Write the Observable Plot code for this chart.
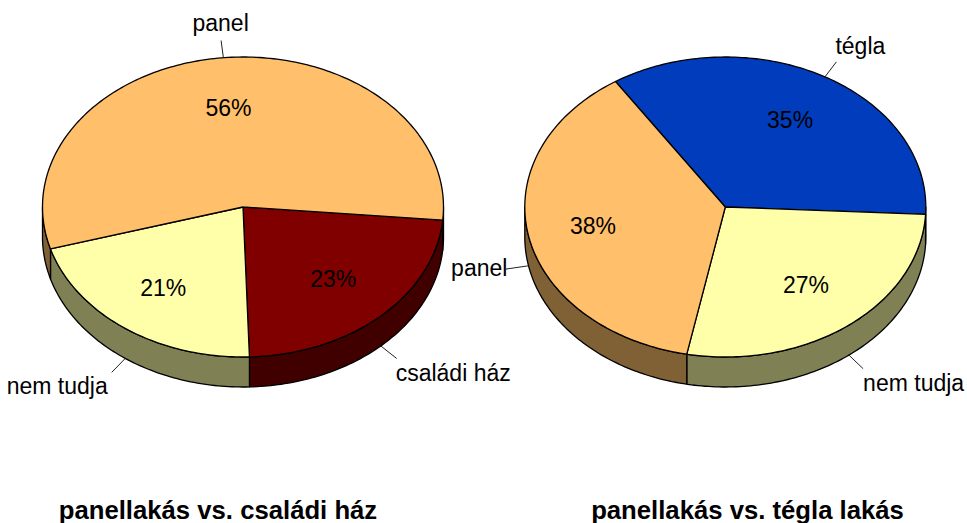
<!DOCTYPE html>
<html>
<head>
<meta charset="utf-8">
<script src="https://cdn.jsdelivr.net/npm/d3@7"></script>
<script src="https://cdn.jsdelivr.net/npm/@observablehq/plot@0.6"></script>
<style>html,body{margin:0;padding:0;background:#fff}svg{display:block}</style>
</head>
<body>
<div id="chart"></div>
<script>
// Data
const leftCategories = ["családi ház", "nem tudja", "panel"];
const leftValues = [23.1, 21, 55.9];
const leftTitle = "panellakás vs. családi ház";
const rightCategories = ["tégla", "nem tudja", "panel"];
const rightValues = [35, 27.3, 37.7];
const rightTitle = "panellakás vs. tégla lakás";

const topColors = {"családi ház":"#800000","nem tudja":"#FFFFAA","panel":"#FFBF6B","tégla":"#003CBC"};
const sideColors = {"családi ház":"#400000","nem tudja":"#808055","panel":"#806035","tégla":"#001E5E"};

// Layout
const W = 967, H = 523, RX = 200.5, RY = 150, DEPTH = 30, CY = 206.5;
const FONT = "Liberation Sans, Arial, sans-serif";
const rad = d => d * Math.PI / 180;

const pies = [
  {id:"L", cx:242.5, start:95, categories:leftCategories, values:leftValues, title:leftTitle, titleX:217.5,
   place:{"családi ház":["start",-1,15],"nem tudja":["end",-4,14],"panel":["middle",-0.5,-17]}},
  {id:"R", cx:724.8, start:-33.2, categories:rightCategories, values:rightValues, title:rightTitle, titleX:747,
   place:{"tégla":["start",-1,-15],"nem tudja":["start",0,15],"panel":["end",1.5,0]}}
];

const tops = [], sides = [], pct = [], leaders = [], labels = [];
const pt = (p, a, r = 1, dy = 0) => [p.cx + RX * r * Math.sin(rad(a)), CY - RY * r * Math.cos(rad(a)) + dy];

for (const p of pies) {
  let a0 = p.start;
  p.categories.forEach((cat, i) => {
    const a1 = a0 + p.values[i] * 3.6;
    const key = p.id + cat;
    const steps = d3.range(a0, a1, 1).concat([a1]);
    // top face
    const face = [[p.cx, CY], ...steps.map(a => pt(p, a)), [p.cx, CY]];
    face.forEach(([x, y]) => tops.push({x, y, key, fill: topColors[cat]}));
    // visible wall: the front half of the rim, 90..270 degrees (mod 360)
    [0, 360, -360].forEach(turn => {
      const lo = Math.max(a0 + turn, 90), hi = Math.min(a1 + turn, 270);
      if (hi <= lo) return;
      const arc = d3.range(lo, hi, 1).concat([hi]);
      const wall = [...arc.map(a => pt(p, a)), ...arc.slice().reverse().map(a => pt(p, a, 1, DEPTH))];
      wall.push(wall[0]);
      wall.forEach(([x, y]) => sides.push({x, y, key: key + turn, fill: sideColors[cat]}));
    });
    // labels
    const mid = (a0 + a1) / 2;
    const [px, py] = pt(p, mid, 0.665);
    pct.push({x: px - 1.5, y: py + 0.5, text: Math.round(p.values[i]) + "%"});
    const front = Math.cos(rad(mid)) < 0;
    const dy = front ? DEPTH : 0;
    const [r0x, r0y] = pt(p, mid, 1, dy);
    const [r1x, r1y] = pt(p, mid, 1.115, dy);
    leaders.push({x1: r0x, y1: r0y, x2: r1x, y2: r1y});
    const [anchor, ox, oy] = p.place[cat];
    labels.push({x: r1x + ox, y: r1y + oy, text: cat, anchor});
    a0 = a1;
  });
}

const titles = pies.map(p => ({x: p.titleX, y: 510, text: p.title}));

const chart = Plot.plot({
  width: W, height: H,
  margin: 0,
  x: {type: "identity", axis: null},
  y: {type: "identity", axis: null},
  color: {type: "identity"},
  style: {background: "#fff"},
  marks: [
    Plot.line(sides, {x:"x", y:"y", z:"key", fill:"fill", stroke:"#000", strokeWidth:1.3, strokeLinejoin:"round"}),
    Plot.line(tops, {x:"x", y:"y", z:"key", fill:"fill", stroke:"#000", strokeWidth:1.3, strokeLinejoin:"round"}),
    Plot.link(leaders, {x1:"x1", y1:"y1", x2:"x2", y2:"y2", stroke:"#222", strokeWidth:1}),
    Plot.text(pct, {x:"x", y:"y", text:"text", fontSize:23, fontFamily:FONT, fill:"#000"}),
    ...["start","middle","end"].map(anchor =>
      Plot.text(labels.filter(d => d.anchor === anchor), {x:"x", y:"y", text:"text", textAnchor:anchor, fontSize:23, fontFamily:FONT, fill:"#000"})),
    Plot.text(titles, {x:"x", y:"y", text:"text", fontSize:25.7, fontWeight:"bold", fontFamily:FONT, fill:"#000"})
  ]
});
document.getElementById("chart").appendChild(chart);
</script>
</body>
</html>
